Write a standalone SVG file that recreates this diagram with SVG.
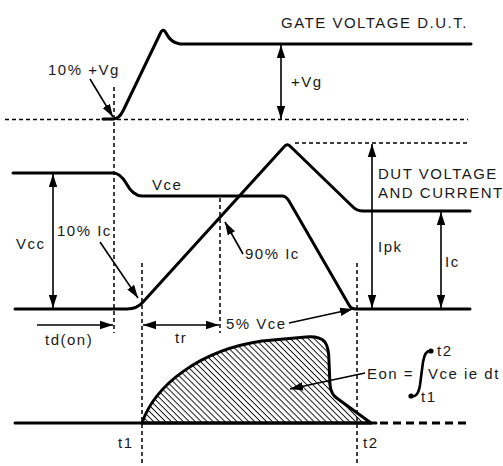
<svg xmlns="http://www.w3.org/2000/svg" width="503" height="466" viewBox="0 0 503 466">
<style>
text{font-family:"Liberation Sans",Arial,sans-serif;font-size:15px;letter-spacing:1.5px;fill:#1a1a1a}
.wave{fill:none;stroke:#000;stroke-width:3;stroke-linejoin:round;stroke-linecap:round}
.dash{fill:none;stroke:#000;stroke-width:1.5;stroke-dasharray:4 3}
.arr{fill:none;stroke:#000;stroke-width:1.6}
</style>
<defs>
<marker id="ah" markerUnits="userSpaceOnUse" markerWidth="14" markerHeight="10" refX="13" refY="5" orient="auto-start-reverse">
<path d="M0,0.8 L13,5 L0,9.2 Z" fill="#000"/>
</marker>
<pattern id="hatch" patternUnits="userSpaceOnUse" width="8" height="4.2" patternTransform="rotate(45)">
<line x1="0" y1="0.5" x2="8" y2="0.5" stroke="#000" stroke-width="0.9"/>
</pattern>
</defs>
<g id="connectors">
<line class="dash" x1="5" y1="119.5" x2="468" y2="119.5"/>
<line class="dash" x1="295" y1="143" x2="467" y2="143"/>
<line class="dash" x1="114" y1="87" x2="114" y2="333"/>
<line class="dash" x1="142" y1="263" x2="142" y2="465"/>
<line class="dash" x1="220" y1="198" x2="220" y2="333"/>
<line class="dash" x1="357" y1="263" x2="357" y2="465"/>
<line class="arr" x1="281" y1="45" x2="281" y2="119" marker-start="url(#ah)" marker-end="url(#ah)"/>
<line class="arr" x1="53" y1="174" x2="53" y2="308" marker-start="url(#ah)" marker-end="url(#ah)"/>
<line class="arr" x1="372" y1="144" x2="372" y2="308" marker-start="url(#ah)" marker-end="url(#ah)"/>
<line class="arr" x1="441" y1="212" x2="441" y2="308" marker-start="url(#ah)" marker-end="url(#ah)"/>
<line class="arr" x1="37" y1="325" x2="113" y2="325" marker-end="url(#ah)"/>
<line class="arr" x1="143" y1="325" x2="219" y2="325" marker-start="url(#ah)" marker-end="url(#ah)"/>
<line class="arr" x1="90" y1="79" x2="113" y2="117" marker-end="url(#ah)"/>
<line class="arr" x1="100" y1="242" x2="138" y2="298" marker-end="url(#ah)"/>
<line class="arr" x1="243" y1="254" x2="225" y2="222" marker-end="url(#ah)"/>
<line class="arr" x1="289" y1="323" x2="353" y2="309" marker-end="url(#ah)"/>
<line class="arr" x1="365" y1="373" x2="290" y2="389" marker-end="url(#ah)"/>
</g>
<g id="gate-waveform">
<path class="wave" d="M103,119 L113,119 Q119,119 123,111 L160,34 Q163,27 166,33 Q171,43 180,44 L471,44"/>
<text x="281" y="28">GATE VOLTAGE D.U.T.</text>
<text x="48" y="75">10% +Vg</text>
<text x="291" y="87">+Vg</text>
</g>
<g id="vce-waveform">
<path class="wave" d="M13,173 L113,173 Q120,173 126,183 Q133,196 142,196 L282,196 Q286,196 289,201 L349,305 Q351,309 356,309 L470,309"/>
<text x="152" y="190">Vce</text>
<text x="16" y="249">Vcc</text>
</g>
<g id="current-waveform">
<path class="wave" d="M15,309 L127,309 Q137,309 143,302 L283,148 Q287,142 291,147 L353,207 Q357,211 363,211 L470,211"/>
<text x="57" y="236">10% Ic</text>
<text x="245" y="259">90% Ic</text>
<text x="378" y="252">Ipk</text>
<text x="445" y="267">Ic</text>
<text x="378" y="179">DUT VOLTAGE</text>
<text x="378" y="198">AND CURRENT</text>
</g>
<g id="timing">
<text x="45" y="345">td(on)</text>
<text x="175" y="343">tr</text>
<text x="226" y="329">5% Vce</text>
</g>
<g id="energy">
<path d="M142,423 C155,385 200,350 262,341 L306,337 Q320,336 325,342 Q329,348 329,362 L330,385 Q331,395 338,399 L371,423 Z" fill="url(#hatch)" stroke="#000" stroke-width="3" stroke-linejoin="round"/>
<line x1="15" y1="423" x2="376" y2="423" stroke="#000" stroke-width="3" stroke-linecap="round"/>
<line x1="380" y1="423" x2="468" y2="423" stroke="#000" stroke-width="3" stroke-dasharray="8 5"/>
<path d="M411,396 Q418,398 420,385 L423,362 Q425,350 431,351" fill="none" stroke="#000" stroke-width="2.6"/>
<circle cx="411" cy="396" r="2.6" fill="#000"/>
<circle cx="431" cy="351" r="2.6" fill="#000"/>
<text x="367" y="379">Eon =</text>
<text x="428" y="379">Vce ie dt</text>
<text x="437" y="356">t2</text>
<text x="421" y="402">t1</text>
<text x="118" y="448">t1</text>
<text x="363" y="448">t2</text>
</g>
</svg>
